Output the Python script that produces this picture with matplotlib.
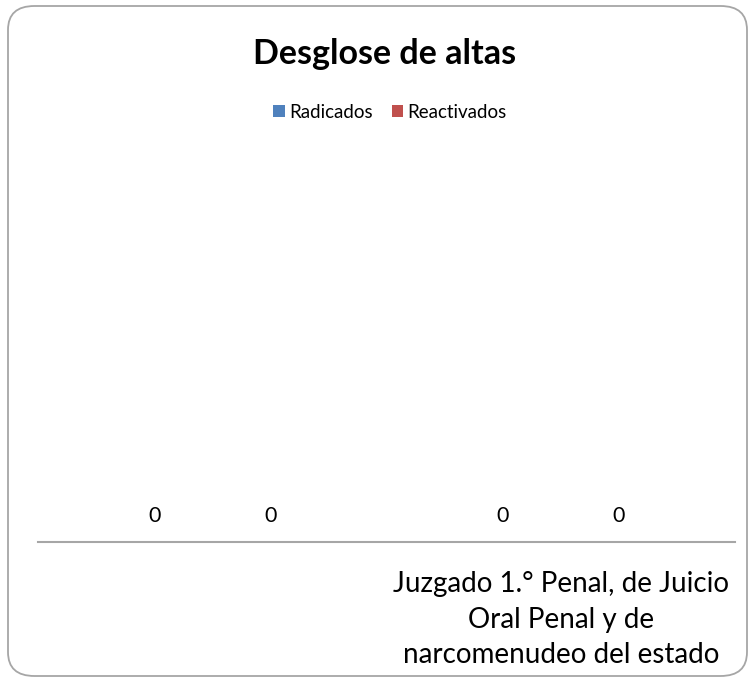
import matplotlib.pyplot as plt
from matplotlib.patches import FancyBboxPatch
import numpy as np

plt.rcParams['font.family'] = ['Lato', 'DejaVu Sans']

categories = ["", "Juzgado 1.° Penal, de Juicio\nOral Penal y de\nnarcomenudeo del estado"]
radicados = [0, 0]
reactivados = [0, 0]
series_names = ["Radicados", "Reactivados"]
colors = ["#4F81BD", "#C0504D"]

fig = plt.figure(figsize=(7.55, 6.83), dpi=100, facecolor="white")

# rounded chart border
border = FancyBboxPatch((8 / 755, 7 / 683), 739 / 755, 670 / 683,
                        boxstyle="round,pad=0,rounding_size=0.035",
                        transform=fig.transFigure, facecolor="none",
                        edgecolor="#A6A6A6", linewidth=1.3, zorder=-1)
fig.patches.append(border)

ax = fig.add_axes([38 / 755, 141 / 683, 697 / 755, 0.58])
ax.set_facecolor("none")

x = np.arange(len(categories))
w = 1 / 3
b1 = ax.bar(x - w / 2, radicados, w, color=colors[0], label=series_names[0])
b2 = ax.bar(x + w / 2, reactivados, w, color=colors[1], label=series_names[1])

for bars in (b1, b2):
    for rect in bars:
        ax.annotate(f"{rect.get_height():g}",
                    (rect.get_x() + rect.get_width() / 2, rect.get_height()),
                    xytext=(0, 18.5), textcoords="offset points",
                    ha="center", va="center", fontsize=15.5)

ax.set_xlim(-0.5, len(categories) - 0.5)
ax.set_ylim(0, 1)
ax.set_yticks([])
ax.set_xticks(x)
ax.set_xticklabels(categories, fontsize=20, linespacing=1.45)
ax.tick_params(axis="x", length=0, pad=21)
for s in ["top", "right", "left"]:
    ax.spines[s].set_visible(False)
ax.spines["bottom"].set_color("#A6A6A6")
ax.spines["bottom"].set_linewidth(1.5)

fig.text(385 / 755, 1 - 54 / 683, "Desglose de altas", ha="center", va="center",
         fontsize=24.5, fontweight="bold")

fig.legend(handles=[b1, b2], loc="center", bbox_to_anchor=(390 / 755, 1 - 112 / 683),
           ncol=2, frameon=False, fontsize=13.5, handlelength=0.6, handleheight=0.6,
           handletextpad=0.25, columnspacing=1.0)

fig.savefig("out.png", dpi=100)
